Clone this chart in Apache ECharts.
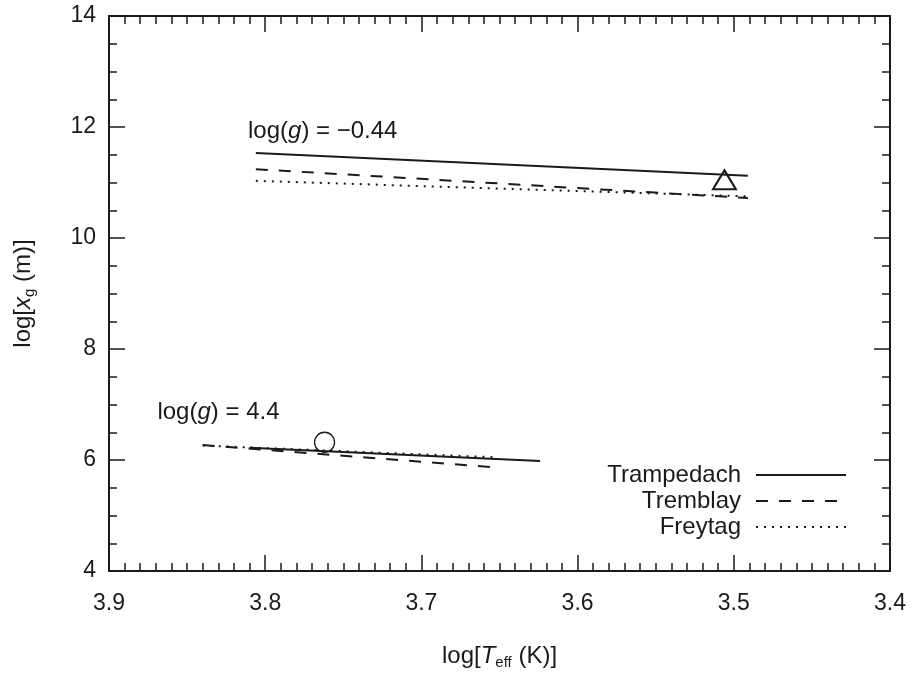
<!DOCTYPE html>
<html>
<head>
<meta charset="utf-8">
<script src="https://cdn.jsdelivr.net/npm/echarts@6/dist/echarts.min.js"></script>
<style>
  html, body { margin: 0; padding: 0; background: #fff; }
  #chart { width: 914px; height: 675px; }
</style>
</head>
<body>
<div id="chart"></div>
<script>
// Model names shown in the legend
const models = ['Trampedach', 'Tremblay', 'Freytag'];

// Axis ranges and ticks
const xTicks = [3.9, 3.8, 3.7, 3.6, 3.5, 3.4];
const yTicks = [4, 6, 8, 10, 12, 14];

// log(g) = -0.44 (giant) : [log Teff, log xg]
const trampedachGiant = [[3.806, 11.53], [3.491, 11.12]];
const tremblayGiant   = [[3.806, 11.24], [3.491, 10.72]];
const freytagGiant    = [[3.806, 11.03], [3.491, 10.75]];

// log(g) = 4.4 (dwarf)
const trampedachDwarf = [[3.810, 6.22], [3.624, 5.98]];
const tremblayDwarf   = [[3.840, 6.27], [3.654, 5.87]];
const freytagDwarf    = [[3.840, 6.26], [3.654, 6.05]];

// Reference stars
const giantStar = [[3.506, 11.05]];
const sunStar   = [[3.762, 6.32]];

// Group labels
const groupLabels = [
  { pos: [3.811, 11.93], g: '\u22120.44' },
  { pos: [3.869, 6.86], g: '4.4' }
];

const FONT = 'Liberation Sans, Arial, Helvetica, sans-serif';
const INK = '#1a1a1a';

const styles = {
  Trampedach: { type: 'solid', width: 2 },
  Tremblay:   { type: [12, 11], width: 2 },
  Freytag:    { type: [2, 6], width: 2 }
};

function lineSeries(name, data) {
  return {
    type: 'line', name: name, data: data, symbol: 'none',
    xAxisIndex: 0, yAxisIndex: 0,
    lineStyle: Object.assign({ color: INK }, styles[name]),
    itemStyle: { color: INK },
    z: 3, silent: true
  };
}

const axisCommon = {
  axisLine: { lineStyle: { color: INK, width: 2 } },
  axisTick: { inside: true, length: 16, lineStyle: { color: INK, width: 1.5 } },
  splitLine: { show: false }
};

const xBase = { type: 'value', min: 3.4, max: 3.9, interval: 0.1, inverse: true };
const yBase = { type: 'value', min: 4, max: 14, interval: 2 };
const xMinor = { show: true, splitNumber: 10, length: 8, lineStyle: { color: INK, width: 1.5 } };
const yMinor = { show: true, splitNumber: 4, length: 8, lineStyle: { color: INK, width: 1.5 } };

const chart = echarts.init(document.getElementById('chart'), null, { renderer: 'canvas' });

const rich = {
  n: { fontFamily: FONT, fontSize: 24, color: INK },
  i: { fontFamily: FONT, fontSize: 24, color: INK, fontStyle: 'italic' },
  s: { fontFamily: FONT, fontSize: 15, color: INK, verticalAlign: 'bottom', padding: [12, 0, 0, 0] }
};

chart.setOption({
  animation: false,
  backgroundColor: '#fff',
  textStyle: { fontFamily: FONT, color: INK },
  grid: { left: 109, right: 24, top: 16, bottom: 104 },
  xAxis: [
    Object.assign({}, axisCommon, xBase, {
      position: 'bottom',
      minorTick: xMinor,
      axisLabel: { fontSize: 23, color: INK, fontFamily: FONT, margin: 21,
        formatter: v => xTicks.find(t => Math.abs(t - v) < 1e-6).toFixed(1) },
      name: '{n|log[}{i|T}{s|eff}{n| (K)]}',
      nameLocation: 'middle', nameGap: 72,
      nameTextStyle: { rich: rich }
    }),
    Object.assign({}, axisCommon, xBase, {
      position: 'top',
      minorTick: xMinor,
      axisLabel: { show: false }
    })
  ],
  yAxis: [
    Object.assign({}, axisCommon, yBase, {
      position: 'left',
      minorTick: yMinor,
      axisLabel: { fontSize: 23, color: INK, fontFamily: FONT, margin: 13,
        formatter: v => String(yTicks.find(t => Math.abs(t - v) < 1e-6)) },
      name: '{n|log[}{i|x}{s|g}{n| (m)]}',
      nameLocation: 'middle', nameGap: 72, nameRotate: 90,
      nameTextStyle: { rich: rich }
    }),
    Object.assign({}, axisCommon, yBase, {
      position: 'right',
      minorTick: yMinor,
      axisLabel: { show: false }
    })
  ],
  legend: {
    orient: 'vertical', right: 62, top: 458, align: 'right',
    itemWidth: 90, itemHeight: 14, itemGap: 2,
    selectedMode: false,
    data: models,
    itemStyle: { opacity: 0 },
    textStyle: { fontFamily: FONT, fontSize: 24, color: INK, padding: [0, 10, 0, 0] }
  },
  series: [
    lineSeries('Trampedach', trampedachGiant),
    lineSeries('Tremblay', tremblayGiant),
    lineSeries('Freytag', freytagGiant),
    lineSeries('Trampedach', trampedachDwarf),
    lineSeries('Tremblay', tremblayDwarf),
    lineSeries('Freytag', freytagDwarf),
    {
      type: 'scatter', name: 'giant star', data: giantStar,
      symbol: 'triangle', symbolSize: [23, 19],
      itemStyle: { color: 'rgba(255,255,255,0)', borderColor: INK, borderWidth: 2, opacity: 1 },
      z: 4, silent: true
    },
    {
      type: 'scatter', name: 'Sun', data: sunStar,
      symbol: 'circle', symbolSize: 20,
      itemStyle: { color: 'rgba(255,255,255,0)', borderColor: INK, borderWidth: 1.3, opacity: 1 },
      z: 4, silent: true
    },
    {
      type: 'scatter', name: 'labels', symbolSize: 0, silent: true, z: 5,
      itemStyle: { opacity: 1 },
      data: groupLabels.map(d => ({ value: d.pos, g: d.g })),
      label: {
        show: true, position: 'right', distance: 0, color: INK, opacity: 1,
        formatter: p => '{n|log(}{i|g}{n|) = ' + p.data.g + '}',
        rich: { n: rich.n, i: rich.i }
      }
    }
  ]
});
</script>
</body>
</html>
